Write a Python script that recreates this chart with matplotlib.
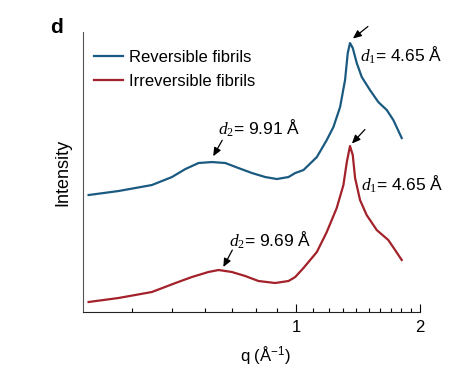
import numpy as np
import matplotlib
matplotlib.use('Agg')
import matplotlib.pyplot as plt
from matplotlib.transforms import offset_copy
from matplotlib.ticker import FixedLocator, NullFormatter

plt.rcParams['font.family'] = ['Liberation Sans', 'DejaVu Sans']
plt.rcParams['mathtext.fontset'] = 'custom'
plt.rcParams['mathtext.it'] = 'Liberation Serif:italic'
plt.rcParams['mathtext.rm'] = 'Liberation Serif'

# data (q in 1/A, intensity in arbitrary units)
q_rev = [0.313, 0.370, 0.446, 0.499, 0.538, 0.579, 0.624, 0.673, 0.724, 0.781, 0.841, 0.898,
         0.958, 0.995, 1.042, 1.123, 1.187, 1.232, 1.279, 1.315, 1.335, 1.352, 1.373, 1.404,
         1.444, 1.512, 1.584, 1.661, 1.723, 1.806]
I_rev = [117, 121, 127, 135, 143, 149, 150, 149, 144, 139, 135, 133,
         135, 139, 142, 155, 172, 185, 205, 232, 259, 269, 264, 249,
         235, 222, 210, 202, 192, 174]

q_irr = [0.313, 0.370, 0.446, 0.509, 0.558, 0.612, 0.648, 0.698, 0.752, 0.810, 0.889, 0.958,
         0.995, 1.042, 1.123, 1.187, 1.255, 1.303, 1.328, 1.352, 1.373, 1.391, 1.430, 1.484,
         1.570, 1.675, 1.740, 1.806]
I_irr = [10, 14, 20, 29, 35, 40, 42, 40, 36, 31, 29, 31,
         35, 44, 60, 80, 104, 127, 150, 166, 157, 134, 112, 97,
         82, 72, 62, 52]

labels = ['Reversible fibrils', 'Irreversible fibrils']
colors = ['#1b5a80', '#a3212a']

# d-spacings (A)
d1_rev, d2_rev = 4.65, 9.91
d1_irr, d2_irr = 4.65, 9.69

fig = plt.figure(figsize=(4.55, 3.84), dpi=100)
ax = fig.add_axes([0.182, 0.1875, 0.741, 0.729])

ax.plot(q_rev, I_rev, color=colors[0], lw=1.6, label=labels[0])
ax.plot(q_irr, I_irr, color=colors[1], lw=1.6, label=labels[1])

ax.set_xscale('log')
ax.set_xlim(0.303, 2.0)
ax.set_ylim(0, 280)
ax.xaxis.set_major_locator(FixedLocator([1, 2]))
ax.xaxis.set_minor_locator(FixedLocator([0.4, 0.5, 0.6, 0.7, 0.8, 0.9] +
                                        [1.1, 1.2, 1.3, 1.4, 1.5, 1.6, 1.7, 1.8, 1.9]))
ax.xaxis.set_minor_formatter(NullFormatter())
ax.set_xticklabels(['1', '2'])
ax.tick_params(axis='x', which='major', direction='in', length=6, width=0.8, labelsize=12, pad=6)
ax.tick_params(axis='x', which='minor', direction='in', length=3, width=0.8)
ax.set_yticks([])
for s in ['top', 'right']:
    ax.spines[s].set_visible(False)
ax.spines['left'].set_color('#555555')
ax.spines['bottom'].set_color('#222222')

ax.set_xlabel('q (Å$^{\\mathregular{-1}}$)', fontsize=12)
ax.xaxis.set_label_coords(0.543, -0.115)
ax.set_ylabel('Intensity', fontsize=13, labelpad=8)

ax.legend(loc='upper left', bbox_to_anchor=(0.0, 0.978), frameon=False, fontsize=12,
          handlelength=1.7, handletextpad=0.4, labelspacing=0.55, borderaxespad=0.3)

fig.text(0.11, 0.915, 'd', fontsize=15, fontweight='bold')


def peak_label(q_anchor, qs, Is, text, tip, tail, txt):
    I_anchor = np.interp(q_anchor, qs, Is)
    tip_tr = offset_copy(ax.transData, fig=fig, x=tip[0], y=tip[1], units='dots')
    tail_tr = offset_copy(ax.transData, fig=fig, x=tail[0], y=tail[1], units='dots')
    ax.annotate('', xy=(q_anchor, I_anchor), xycoords=tip_tr,
                xytext=(q_anchor, I_anchor), textcoords=tail_tr,
                arrowprops=dict(arrowstyle='-|>,head_length=0.5,head_width=0.22',
                                color='black', lw=0.9, shrinkA=0, shrinkB=0),
                annotation_clip=False)
    txt_tr = offset_copy(ax.transData, fig=fig, x=txt[0], y=txt[1], units='dots')
    ax.text(q_anchor, I_anchor, text, transform=txt_tr, fontsize=12.5,
            ha='left', va='center', clip_on=False)


peak_label(2 * np.pi / d1_rev, q_rev, I_rev, '$d_1$= %.2f Å' % d1_rev, (3, 5), (18, 17), (10, -12))
peak_label(2 * np.pi / d1_irr, q_irr, I_irr, '$d_1$= %.2f Å' % d1_irr, (2, 3), (15, 17), (11, -38))
peak_label(2 * np.pi / d2_rev, q_rev, I_rev, '$d_2$= %.2f Å' % d2_rev, (-1.5, 6), (7.5, 22), (3.5, 34))
peak_label(2 * np.pi / d2_irr, q_irr, I_irr, '$d_2$= %.2f Å' % d2_irr, (4.6, 3), (13.6, 20), (10.6, 30))

fig.savefig('out.png', dpi=100)
